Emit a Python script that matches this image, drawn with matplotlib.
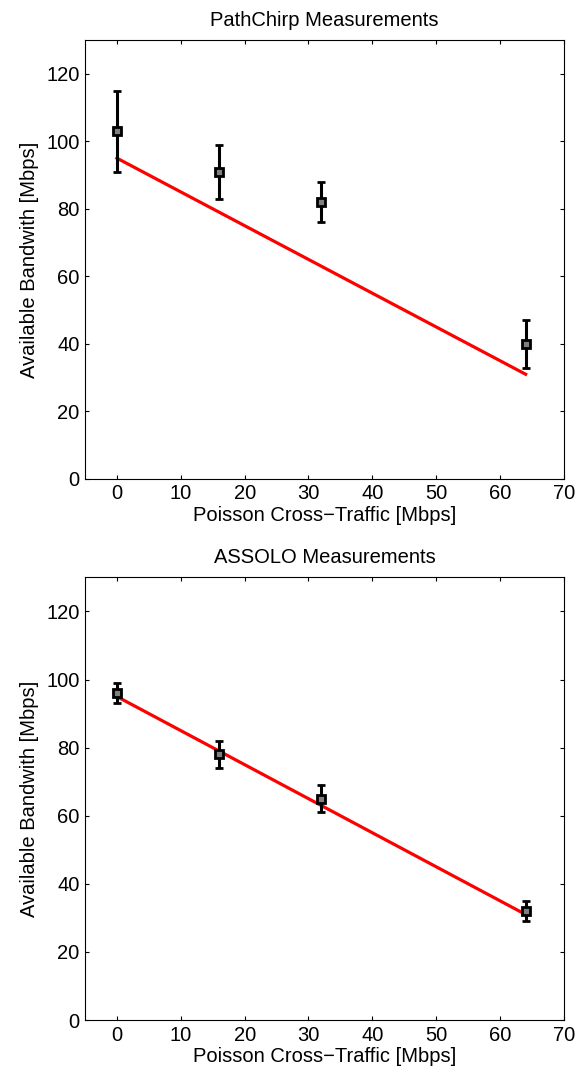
import matplotlib.pyplot as plt
import numpy as np

plt.rcParams['font.family'] = ['Liberation Sans', 'DejaVu Sans']

traffic = [0, 16, 32, 64]

chirp_mean = [103, 91, 82, 40]
chirp_err = [12, 8, 6, 7]

assolo_mean = [96, 78, 65, 32]
assolo_err = [3, 4, 4, 3]

# expected available bandwidth (ideal line)
ideal_x = [0, 64]
ideal_y = [95, 31]

fig = plt.figure(figsize=(5.82, 10.77), dpi=100)
ax1 = fig.add_axes([0.146, 0.5553, 0.823, 0.4076])
ax2 = fig.add_axes([0.146, 0.0529, 0.823, 0.411])

panels = [(ax1, chirp_mean, chirp_err, 'PathChirp Measurements'),
          (ax2, assolo_mean, assolo_err, 'ASSOLO Measurements')]

for ax, mean, err, title in panels:
    ax.plot(ideal_x, ideal_y, color='red', linewidth=2.3, zorder=2)
    ax.errorbar(traffic, mean, yerr=err, fmt='s', color='black',
                markerfacecolor='#808080', markeredgecolor='black',
                markersize=5.5, markeredgewidth=2.0,
                elinewidth=2.2, capsize=3, capthick=2.2, zorder=3)
    ax.set_xlim(-5, 70)
    ax.set_ylim(0, 130)
    ax.set_xticks(np.arange(0, 71, 10))
    ax.set_yticks(np.arange(0, 121, 20))
    ax.tick_params(direction='in', top=True, right=True, length=3,
                   labelsize=14.5, width=0.8, pad=4)
    ax.set_title(title, fontsize=14.5, pad=10)
    ax.set_xlabel('Poisson Cross\u2212Traffic [Mbps]', fontsize=14.5, labelpad=2)
    ax.set_ylabel('Available Bandwith [Mbps]', fontsize=14.5, labelpad=5)
    for s in ax.spines.values():
        s.set_linewidth(0.8)

plt.savefig('out.png', dpi=100)
plt.close(fig)
